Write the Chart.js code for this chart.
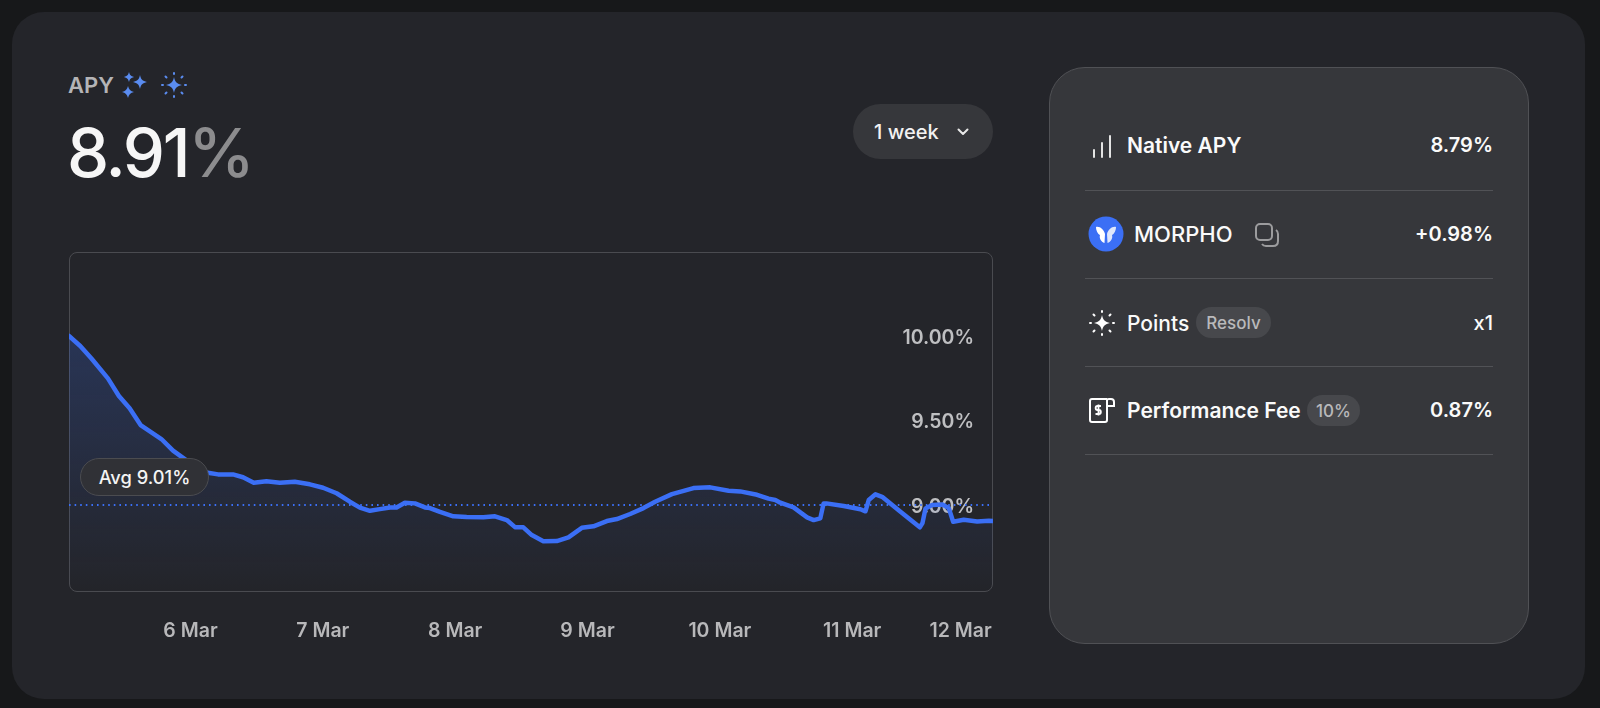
<!DOCTYPE html>
<html><head><meta charset="utf-8">
<script src="https://cdn.jsdelivr.net/npm/chart.js@4/dist/chart.umd.min.js"></script>
<style>
html,body{margin:0;padding:0;width:1600px;height:708px;background:#17181a;overflow:hidden;font-family:Inter,"Noto Sans",sans-serif;}
.a{position:absolute;white-space:nowrap;line-height:1;}
.box{position:absolute;box-sizing:border-box;}
.sep{position:absolute;left:1085px;width:408px;height:1px;background:#515256;}
.lbl{font-size:21px;font-weight:600;color:#fafafa;transform:translateY(-50%);}
.val{font-size:20px;font-weight:600;color:#fafafa;right:107px;transform:translateY(-50%);}
.chip{position:absolute;box-sizing:border-box;background:#47484c;border-radius:16px;color:#b9b9bb;font-size:17px;font-weight:500;display:flex;align-items:center;justify-content:center;}
svg{position:absolute;overflow:visible;}
</style></head><body>
<div class="box" style="left:12px;top:12px;width:1573px;height:687px;background:#24252a;border-radius:32px;"></div>

<div class="a" style="left:68px;top:74px;font-size:22px;font-weight:600;color:#b4b4b6;">APY</div>
<svg style="left:122px;top:72px" width="28" height="26" viewBox="0 0 28 26" fill="#5a8cf0">
<path d="M7 0 C7.800 3 8.800 4 12 5 C8.800 6 7.800 7 7 10 C6.200 7 5.200 6 2 5 C5.200 4 6.200 3 7 0Z"/>
<path d="M18 3 C18.900 7.500 20.500 9 25 10 C20.500 11 18.900 12.500 18 17 C17.100 12.500 15.500 11 11 10 C15.500 9 17.100 7.500 18 3Z"/>
<path d="M6 14 C6.800 17.500 8.500 19 12 20 C8.500 21 6.800 22.500 6 26 C5.200 22.500 3.500 21 0 20 C3.500 19 5.200 17.500 6 14Z"/>
</svg>
<svg style="left:161px;top:72px" width="26" height="26" viewBox="-13 -13 26 26" fill="#5a8cf0" stroke="#5a8cf0" stroke-width="2" stroke-linecap="round">
<path stroke="none" d="M0 -8 C1 -3 3 -1 8 0 C3 1 1 3 0 8 C-1 3 -3 1 -8 0 C-3 -1 -1 -3 0 -8Z"/>
<path fill="none" d="M0 -12V-11M0 11V12M-12 0H-11M11 0H12M-8.500 -8.500L-7.500 -7.500M8.500 -8.500L7.500 -7.500M-8.500 8.500L-7.500 7.500M8.500 8.500L7.500 7.500"/>
</svg>
<div class="a" style="left:67px;top:120px;font-size:67px;font-weight:450;color:#f6f6f6;letter-spacing:-2.3px;line-height:66px;">8.91<span style="color:#8c8c8e">%</span></div>

<div class="box" style="left:853px;top:104px;width:140px;height:55px;background:#36373b;border-radius:28px;"></div>
<div class="a" style="left:874px;top:122px;font-size:20px;font-weight:500;color:#f2f2f2;">1 week</div>
<svg style="left:957px;top:128px" width="12" height="8" viewBox="0 0 12 8"><path d="M1.500 1.500L6 6L10.500 1.500" fill="none" stroke="#e8e8e8" stroke-width="2" stroke-linecap="round" stroke-linejoin="round"/></svg>

<div class="box" style="left:69px;top:252px;width:924px;height:340px;border:1px solid #4a4b50;border-radius:8px;"></div>
<div style="position:absolute;left:69px;top:252px;width:924px;height:398px;"><canvas id="c"></canvas></div>
<div class="box" style="left:80px;top:458px;width:129px;height:38px;background:#303136;border:1px solid #4b4c50;border-radius:19px;color:#f4f4f4;font-size:18.300px;font-weight:500;display:flex;align-items:center;justify-content:center;">Avg 9.01%</div>

<div class="box" style="left:1049px;top:67px;width:480px;height:577px;background:#36373b;border:1px solid #505155;border-radius:36px;"></div>

<svg style="left:1092px;top:134px" width="20" height="24" viewBox="0 0 20 24" stroke="#e4e4e4" stroke-width="2" stroke-linecap="round"><path d="M2 16V23M10 9V23M18 2V23"/></svg>
<div class="a lbl" style="left:1127px;top:145px;">Native APY</div>
<div class="a val" style="top:145px;">8.79%</div>
<div class="sep" style="top:190px"></div>

<svg style="left:1088px;top:216px" width="36" height="36" viewBox="0 0 36 36"><circle cx="18" cy="18" r="17.500" fill="#3b6ff5"/>
<path fill="#fff" d="M8 11 C12 10 16 14 17 18 L16.500 27 C13 26 11 22 12 19 C9.500 18 8 14 8 11Z"/>
<path fill="#dfe7fb" d="M28 11 C24 10 20 14 19 18 L19.500 27 C23 26 25 22 24 19 C26.500 18 28 14 28 11Z"/></svg>
<div class="a lbl" style="left:1134px;top:234px;font-size:22px;font-weight:500;">MORPHO</div>
<svg style="left:1255px;top:223px" width="24" height="24" viewBox="0 0 24 24" fill="none" stroke="#9c9c9e" stroke-width="2"><rect x="1" y="1" width="16" height="16" rx="4"/><path d="M7 21 C8 22.500 9 23 11 23 H18 C21 23 23 21 23 18 V11 C23 9 22.500 8 21 7"/></svg>
<div class="a val" style="top:234px;">+0.98%</div>
<div class="sep" style="top:278px"></div>

<svg style="left:1089px;top:310px" width="26" height="26" viewBox="-13 -13 26 26" fill="#fff" stroke="#fff" stroke-width="2" stroke-linecap="round">
<path stroke="none" d="M0 -8 C1 -3 3 -1 8 0 C3 1 1 3 0 8 C-1 3 -3 1 -8 0 C-3 -1 -1 -3 0 -8Z"/>
<path fill="none" d="M0 -12V-11M0 11V12M-12 0H-11M11 0H12M-8.500 -8.500L-7.500 -7.500M8.500 -8.500L7.500 -7.500M-8.500 8.500L-7.500 7.500M8.500 8.500L7.500 7.500"/></svg>
<div class="a lbl" style="left:1127px;top:323px;font-weight:500;">Points</div>
<div class="chip" style="left:1196px;top:307px;width:75px;height:31px;">Resolv</div>
<div class="a val" style="top:323px;font-weight:500;">x1</div>
<div class="sep" style="top:366px"></div>

<svg style="left:1089px;top:397px" width="26" height="26" viewBox="0 0 26 26" fill="none" stroke="#fff" stroke-width="2">
<path d="M18 2 H3 C2 2 1 3 1 4 V23 C1 24 2 25 3 25 H16 C17 25 18 24 18 23 V3 C18 2.500 19 2 20 2 H22 C24 2 25 3 25 5 V9 H18"/>
<path stroke-width="1.800" d="M12 9 H8.500 C6 9 6 13 8.500 13 H10 C12.500 13 12.500 17 10 17 H6.500 M9.500 7.500 V18.500"/></svg>
<div class="a lbl" style="left:1127px;top:410px;">Performance Fee</div>
<div class="chip" style="left:1307px;top:395px;width:53px;height:31px;">10%</div>
<div class="a val" style="top:410px;">0.87%</div>
<div class="sep" style="top:454px"></div>

<script>
// x: day of March (6 = 6 Mar 00:00), y: APY %
const days = [5.082,5.167,5.250,5.376,5.459,5.540,5.623,5.780,5.868,5.949,6.039,6.132,6.208,6.321,6.397,6.478,6.574,6.675,6.788,6.902,7.002,7.104,7.204,7.280,7.356,7.431,7.507,7.557,7.620,7.696,7.772,7.809,7.885,7.986,8.087,8.213,8.301,8.390,8.452,8.515,8.579,8.666,8.768,8.856,8.957,9.045,9.146,9.222,9.322,9.423,9.511,9.638,9.801,9.927,10.066,10.154,10.281,10.368,10.419,10.457,10.557,10.659,10.709,10.759,10.784,10.805,10.936,11.062,11.100,11.125,11.176,11.226,11.365,11.511,11.531,11.554,11.604,11.682,11.730,11.763,11.843,11.944,12.033,12.064];
const apy = [10.014,9.954,9.881,9.762,9.657,9.584,9.485,9.402,9.333,9.287,9.236,9.202,9.192,9.192,9.175,9.143,9.151,9.143,9.148,9.133,9.113,9.080,9.030,8.995,8.976,8.986,8.996,8.996,9.024,9.020,8.996,8.992,8.969,8.943,8.939,8.937,8.943,8.921,8.879,8.878,8.832,8.795,8.796,8.818,8.875,8.884,8.915,8.927,8.957,8.992,9.030,9.075,9.111,9.115,9.095,9.091,9.071,9.048,9.040,9.024,8.996,8.937,8.921,8.931,9.020,9.020,9.004,8.985,8.973,9.040,9.074,9.059,8.970,8.878,8.903,8.990,9.010,9.013,8.992,8.911,8.923,8.913,8.917,8.915];
const avgApy = 9.01;
const xTickDays = [6,7,8,9,10,11,11.819]; // last label is held inside the right edge
const xTickLabels = ["6 Mar","7 Mar","8 Mar","9 Mar","10 Mar","11 Mar","12 Mar"];
const yTicks = [9,9.5,10];
const yTickLabels = ["9.00%","9.50%","10.00%"];

const pts = days.map((d,i)=>({x:d,y:apy[i]}));
const font = {family:'Inter, "Noto Sans", sans-serif',size:19.5,weight:'600'};
new Chart(document.getElementById('c'),{
  type:'line',
  data:{datasets:[
    {data:pts,borderColor:'#3b6ff5',borderWidth:4.5,pointRadius:0,tension:0,borderJoinStyle:'round',borderCapStyle:'round',fill:'start',
     backgroundColor(ctx){const a=ctx.chart.chartArea;if(!a)return 'transparent';
       const g=ctx.chart.ctx.createLinearGradient(0,a.top+80,0,a.bottom);
       g.addColorStop(0,'rgba(59,111,245,0.22)');g.addColorStop(1,'rgba(59,111,245,0.0)');return g;}},
    {data:[{x:days[0],y:avgApy},{x:days[days.length-1],y:avgApy}],borderColor:'#3b6ff5',borderWidth:2,borderDash:[1.6,4],pointRadius:0,fill:false}
  ]},
  options:{
    responsive:true,maintainAspectRatio:false,animation:false,
    layout:{padding:0},
    plugins:{legend:{display:false},tooltip:{enabled:false}},
    scales:{
      x:{type:'linear',min:5.082,max:12.064,grid:{display:false},border:{display:false},
        afterBuildTicks(s){s.ticks=xTickDays.map(v=>({value:v}));},
        afterFit(s){s.height=58;s.paddingLeft=0;s.paddingRight=0;},
        ticks:{autoSkip:false,maxRotation:0,padding:19,color:'#b8b8ba',font,callback:(v,i)=>xTickLabels[i]}},
      y:{type:'linear',position:'right',min:8.494,max:10.512,z:1,grid:{display:false},border:{display:false},
        afterBuildTicks(s){s.ticks=yTicks.map(v=>({value:v}));},
        afterFit(s){s.width=0;s.paddingTop=0;s.paddingBottom=0;},
        ticks:{mirror:true,padding:-19,color:'rgba(204,204,206,0.92)',font,callback:(v,i)=>yTickLabels[i]}}
    }
  }
});
</script>
</body></html>
